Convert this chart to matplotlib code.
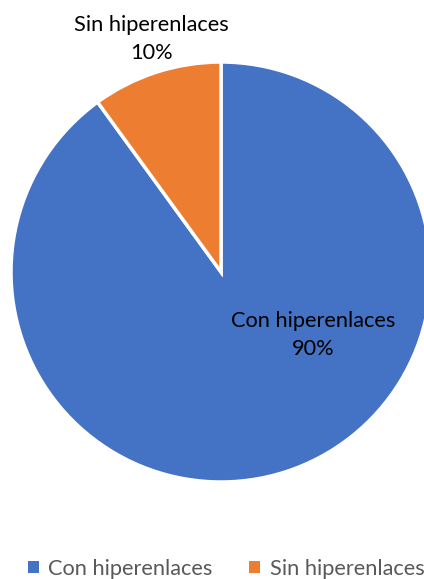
import matplotlib
matplotlib.use("Agg")
import matplotlib.pyplot as plt
from matplotlib.patches import Patch

categories = ["Con hiperenlaces", "Sin hiperenlaces"]
values = [90, 10]
colors = ["#4472C4", "#ED7D31"]

W, H = 424, 579
fig = plt.figure(figsize=(W / 100, H / 100), dpi=100)
plt.rcParams['font.family'] = ['Lato', 'DejaVu Sans']
cx, cy, r = 221, 272, 210
ax = fig.add_axes([(cx - r) / W, (H - cy - r) / H, 2 * r / W, 2 * r / H])

wedges, _ = ax.pie(values, colors=colors, startangle=90, counterclock=False,
                   radius=1, wedgeprops=dict(edgecolor="white", linewidth=2.5))
ax.set_xlim(-1, 1)
ax.set_ylim(-1, 1)
ax.axis("off")
for w in wedges:
    w.set_clip_on(False)

total = sum(values)
label_pos = [(0.44, -0.30), (-0.33, 1.11)]
for cat, v, (x, y) in zip(categories, values, label_pos):
    ax.text(x, y, f"{cat}\n{round(100 * v / total)}%", ha="center", va="center",
            fontsize=15.7, color="black", linespacing=1.5, clip_on=False)

handles = [Patch(facecolor=c, edgecolor="none") for c in colors]
leg = fig.legend(handles, categories, ncol=2, loc="center",
                 bbox_to_anchor=(0.533, 1 - 569 / H), frameon=False,
                 fontsize=15.7, handlelength=0.5, handleheight=0.5,
                 handletextpad=0.45, columnspacing=1.65)
for t in leg.get_texts():
    t.set_color("#595959")

fig.savefig("out.png", dpi=100)
